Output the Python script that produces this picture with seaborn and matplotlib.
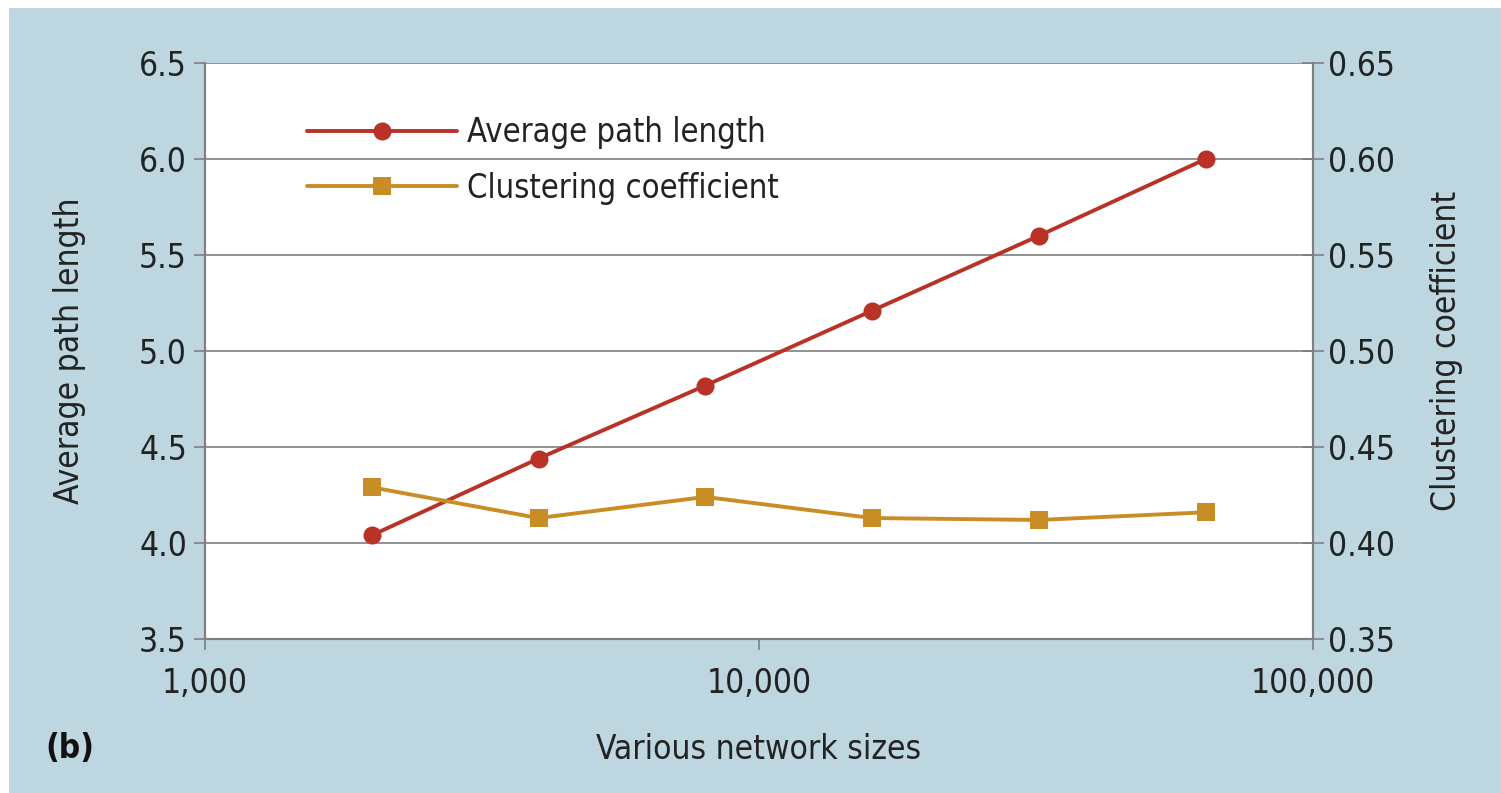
import matplotlib
matplotlib.use("Agg")
import matplotlib.pyplot as plt
import matplotlib.ticker as mticker
from matplotlib import font_manager
from matplotlib.patches import Rectangle
import seaborn as sns
import pandas as pd

# ---- data ----
network_sizes = [2000, 4000, 8000, 16000, 32000, 64000]
avg_path_length = [4.04, 4.44, 4.82, 5.21, 5.60, 6.00]
clustering_coeff = [0.429, 0.413, 0.424, 0.413, 0.412, 0.416]
left_ticks = [3.5, 4.0, 4.5, 5.0, 5.5, 6.0, 6.5]
right_ticks = [0.35, 0.40, 0.45, 0.50, 0.55, 0.60, 0.65]
x_ticks = [1000, 10000, 100000]

sns.set_theme(style="white")
names = {f.name for f in font_manager.fontManager.ttflist}
fam = ["Liberation Sans Narrow", "DejaVu Sans"] if "Liberation Sans Narrow" in names else ["DejaVu Sans"]
plt.rcParams["font.family"] = fam
if "Liberation Sans Narrow" not in names:
    plt.rcParams["font.stretch"] = "condensed"

BG = "#bdd6df"
RED = "#b83227"
GOLD = "#c98d26"
GRID = "#7f7f7f"
TXT = "#222222"
FS = 24

df = pd.DataFrame({"size": network_sizes, "apl": avg_path_length, "cc": clustering_coeff})

fig = plt.figure(figsize=(15.01, 7.93), dpi=100)
fig.patch.set_facecolor("white")
fig.patches.append(Rectangle((9 / 1501, 0), 1, 1 - 8 / 793, transform=fig.transFigure,
                             facecolor=BG, edgecolor="none", zorder=-10))
ax = fig.add_axes([205 / 1501, 1 - 639 / 793, (1313 - 205) / 1501, (639 - 63) / 793])
ax.set_facecolor("white")
ax2 = ax.twinx()

sns.lineplot(data=df, x="size", y="apl", ax=ax, color=RED, marker="o", markersize=13,
             markeredgewidth=0, linewidth=2.8, label="Average path length", legend=False)
sns.lineplot(data=df, x="size", y="cc", ax=ax2, color=GOLD, marker="s", markersize=13,
             markeredgewidth=0, linewidth=2.8, label="Clustering coefficient", legend=False)

ax.set_xscale("log")
ax.set_xlim(1000, 100000)
ax.set_xticks(x_ticks)
ax.xaxis.set_minor_locator(mticker.NullLocator())
ax.xaxis.set_major_formatter(mticker.FuncFormatter(lambda v, p: f"{int(v):,}"))
ax.set_ylim(3.5, 6.5)
ax.set_yticks(left_ticks)
ax.set_yticklabels([f"{v:.1f}" for v in left_ticks])
ax2.set_ylim(0.35, 0.65)
ax2.set_yticks(right_ticks)
ax2.set_yticklabels([f"{v:.2f}" for v in right_ticks])

ax.yaxis.grid(True, color=GRID, linewidth=1.2)
ax.xaxis.grid(False)
ax2.grid(False)

for a in (ax, ax2):
    for s in a.spines.values():
        s.set_color(GRID)
        s.set_linewidth(1.5)
    a.spines["top"].set_visible(False)

ax.tick_params(axis="y", which="major", direction="out", length=8, width=1.2, color=GRID,
               labelsize=FS, labelcolor=TXT, pad=5, left=True)
ax.tick_params(axis="x", which="major", direction="out", length=8, width=1.2, color=GRID,
               labelsize=FS, labelcolor=TXT, pad=12, bottom=True)
ax2.tick_params(axis="y", which="major", direction="inout", length=16, width=1.2, color=GRID,
                labelsize=FS, labelcolor=TXT, pad=3, right=True)

ax.set_xlabel("Various network sizes", fontsize=FS, color=TXT, labelpad=24)
ax.set_ylabel("Average path length", fontsize=FS, color=TXT, labelpad=38)
ax2.set_ylabel("Clustering coefficient", fontsize=FS, color=TXT, labelpad=25)

h1, l1 = ax.get_legend_handles_labels()
h2, l2 = ax2.get_legend_handles_labels()
leg = ax2.legend(h1 + h2, l1 + l2, loc="upper left", bbox_to_anchor=(0.08, 0.93),
                 frameon=False, fontsize=23.5, handlelength=4.6, handletextpad=0.3,
                 labelspacing=0.68, borderaxespad=0)
for t in leg.get_texts():
    t.set_color(TXT)

fig.text(45 / 1501, 1 - 748 / 793, "(b)", fontsize=FS, fontweight="heavy", color="#111111",
         va="center", ha="left", family=["DejaVu Sans"])

fig.savefig("out.png", dpi=100, facecolor=fig.get_facecolor())
